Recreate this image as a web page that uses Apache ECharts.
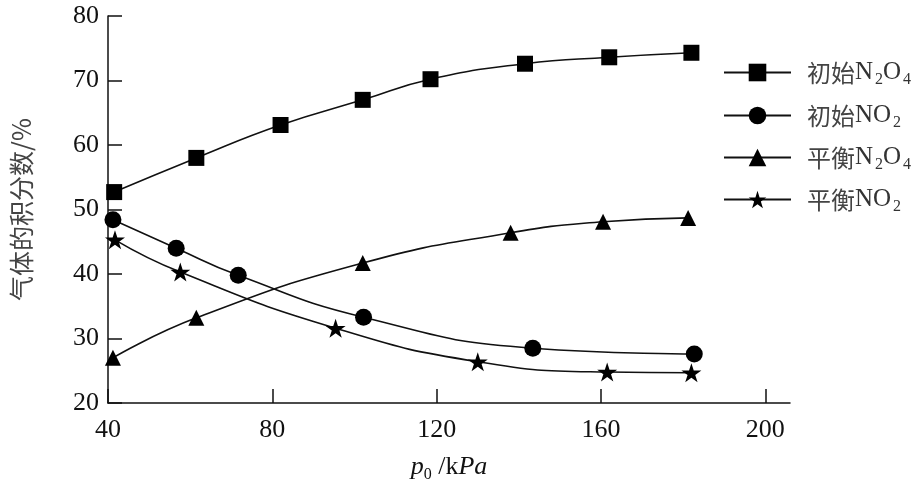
<!DOCTYPE html>
<html>
<head>
<meta charset="utf-8">
<script src="https://cdn.jsdelivr.net/npm/echarts@6/dist/echarts.min.js"></script>
<style>html,body{margin:0;padding:0;background:#fff;}#c{width:923px;height:483px;}</style>
</head>
<body>
<div id="c"></div>
<script>
// ---- data ----
const xTicks = [40, 80, 120, 160, 200];
const seriesNames = ['初始N2O4', '初始NO2', '平衡N2O4', '平衡NO2'];
const p0_N2O4init = [41.5, 61.5, 82, 102, 118.5, 141.5, 162, 182];
const v_N2O4init  = [52.7, 58.0, 63.1, 67.0, 70.2, 72.6, 73.6, 74.3];
const p0_NO2init  = [41.2, 56.6, 71.7, 102.2, 143.4, 182.7];
const v_NO2init   = [48.4, 44.0, 39.8, 33.3, 28.5, 27.6];
const p0_N2O4eq   = [41.2, 61.5, 102, 138, 160.5, 181.2];
const v_N2O4eq    = [27.0, 33.2, 41.7, 46.4, 48.1, 48.7];
const p0_NO2eq    = [41.7, 57.6, 95.4, 130, 161.5, 182];
const v_NO2eq     = [45.3, 40.3, 31.6, 26.4, 24.8, 24.7];

const zip = (xs, ys) => xs.map((x, i) => [x, ys[i]]);
const STAR = 'path://M50,0 L61.2,34.5 L97.6,34.5 L68.2,55.9 L79.4,90.5 L50,69.1 L20.6,90.5 L31.8,55.9 L2.4,34.5 L38.8,34.5 Z';
const SERIF = '"Liberation Serif","Times New Roman",serif';
const CJK = '"Noto Sans CJK SC","Liberation Serif",serif';

const symbols = ['rect', 'circle', 'triangle', STAR];
const sizes = [16, 17, 16, 20];
const datas = [
  zip(p0_N2O4init, v_N2O4init),
  zip(p0_NO2init, v_NO2init),
  zip(p0_N2O4eq, v_N2O4eq),
  zip(p0_NO2eq, v_NO2eq)
];
const legendLabels = {
  '初始N2O4': '{cn|初始}{t|N}{s|2}{t|O}{s|4}',
  '初始NO2': '{cn|初始}{t|NO}{s|2}',
  '平衡N2O4': '{cn|平衡}{t|N}{s|2}{t|O}{s|4}',
  '平衡NO2': '{cn|平衡}{t|NO}{s|2}'
};
const legendRows = [72, 115, 157, 199];

const chart = echarts.init(document.getElementById('c'), null, {renderer: 'canvas'});
const option = {
  backgroundColor: '#fff',
  animation: false,
  grid: {left: 108, right: 133, top: 16, bottom: 80, containLabel: false, outerBoundsMode: 'none'},
  xAxis: {
    type: 'value', min: 40, max: 206, interval: 40,
    name: '{i|p}{s|0}{t| /k}{i|Pa}',
    nameLocation: 'middle', nameGap: 49,
    nameTextStyle: {
      rich: {
        i: {fontFamily: SERIF, fontStyle: 'italic', fontSize: 26, color: '#111'},
        t: {fontFamily: SERIF, fontSize: 26, color: '#111'},
        s: {fontFamily: SERIF, fontSize: 16, color: '#111', verticalAlign: 'bottom', padding: [15, 0, 0, 0]}
      }
    },
    axisLine: {show: true, onZero: false, lineStyle: {color: '#111', width: 1.5}},
    axisTick: {show: true, inside: true, length: 14, lineStyle: {color: '#111', width: 1.5}, customValues: xTicks},
    axisLabel: {customValues: xTicks, fontFamily: SERIF, fontSize: 26, color: '#111', margin: 14},
    splitLine: {show: false}
  },
  yAxis: {
    type: 'value', min: 20, max: 80, interval: 10,
    name: '气体的积分数/%',
    nameLocation: 'middle', nameRotate: 90, nameGap: 74,
    nameTextStyle: {fontFamily: CJK, fontSize: 25, color: '#444'},
    axisLine: {show: true, onZero: false, lineStyle: {color: '#111', width: 1.5}},
    axisTick: {show: true, inside: true, length: 14, lineStyle: {color: '#111', width: 1.5}},
    axisLabel: {fontFamily: SERIF, fontSize: 26, color: '#111', margin: 9},
    splitLine: {show: false}
  },
  legend: seriesNames.map((n, i) => ({
    data: [n],
    orient: 'vertical',
    left: 723, top: legendRows[i] - 12,
    padding: 0,
    itemWidth: 67, itemHeight: 22,
    formatter: name => legendLabels[name],
    textStyle: {
      rich: {
        cn: {fontFamily: CJK, fontSize: 24, color: '#444', padding: [0, 0, 0, 11]},
        t: {fontFamily: SERIF, fontSize: 25, color: '#333'},
        s: {fontFamily: SERIF, fontSize: 16, color: '#333', verticalAlign: 'bottom', padding: [14, 0, 0, 2]}
      }
    }
  })),
  series: seriesNames.map((n, i) => ({
    name: n,
    type: 'line',
    data: datas[i],
    smooth: 0.5,
    symbol: symbols[i],
    symbolSize: sizes[i],
    symbolKeepAspect: true,
    showAllSymbol: true,
    lineStyle: {color: '#111', width: 1.6},
    itemStyle: {color: '#000', borderWidth: 0},
    emphasis: {disabled: true},
    z: 2
  }))
};
chart.setOption(option);
</script>
</body>
</html>
